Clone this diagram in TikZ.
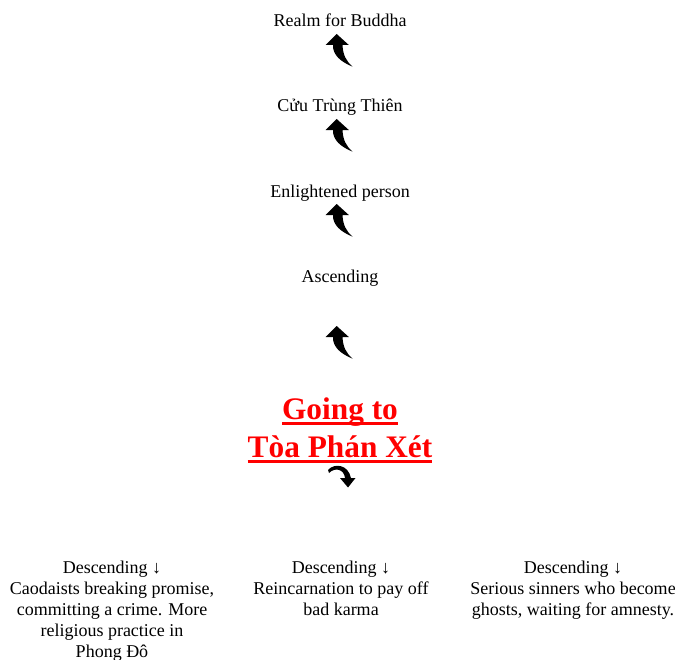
\documentclass[tikz,border=0pt]{standalone}
\usepackage{fontspec}
\setmainfont{Liberation Serif}
\usetikzlibrary{positioning}

\newsavebox{\ulbox}
\newcommand{\thickul}[1]{\sbox{\ulbox}{#1}\rlap{\rule[-4pt]{\wd\ulbox}{2pt}}\usebox{\ulbox}}

\begin{document}
\begin{tikzpicture}[
  x=0.75pt, y=-0.75pt,
  every node/.style={inner sep=0pt, font=\fontsize{13.5}{15.75}\selectfont},
  level/.style={anchor=base},
  fate/.style={anchor=north, align=center},
  title/.style={anchor=north, align=center, text=red,
    font=\fontsize{23.5}{28.5}\selectfont\bfseries},
  uparrow/.pic={
    \fill (-3.3,-16) -- (8.8,-5) -- (2.5,-5)
      .. controls (3,5) and (6,11) .. (12.7,16.7)
      .. controls (1,12) and (-7.5,5) .. (-7,-5) -- (-14.5,-5) -- cycle;
  },
  turnarrow/.pic={
    \fill (-12,-8) .. controls (-6,-15) and (8,-14) .. (11,0)
      -- (15.5,0) -- (8,9.5) -- (0,0) -- (5,0)
      .. controls (4,-9) and (-5,-11) .. (-11,-5) -- cycle;
  }
]
\useasboundingbox (0,0) rectangle (675,660);

% ascending path
\node[level] (realm)  at (340,27)  {Realm for Buddha};
\node[level] (cuu)    at (340,112) {Cửu Trùng Thiên};
\node[level] (enl)    at (340,197) {Enlightened person};
\node[level] (ascend) at (340,282) {Ascending};
\pic at (340,50)  {uparrow};
\pic at (340,135) {uparrow};
\pic at (340,220) {uparrow};
\pic at (340,342) {uparrow};

% judgement
\node[title] (judge) at (340,397.5) {\thickul{Going to}\\\thickul{Tòa Phán Xét}};
\pic at (340,478) {turnarrow};

% descending paths
\node[fate] (crime)  at (112,560.5) {Descending ↓\\Caodaists breaking promise,\\committing a crime. More\\religious practice in\\Phong Đô};
\node[fate] (karma)  at (341,560.5) {Descending ↓\\Reincarnation to pay off\\bad karma};
\node[fate] (ghosts) at (573,560.5) {Descending ↓\\Serious sinners who become\\ghosts, waiting for amnesty.};
\end{tikzpicture}
\end{document}
